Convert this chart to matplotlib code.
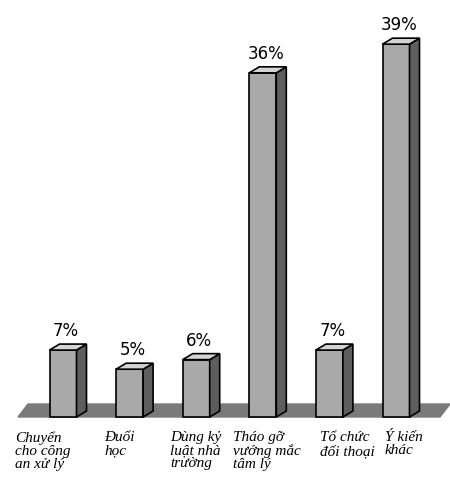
import matplotlib
matplotlib.use("Agg")
import matplotlib.pyplot as plt
from matplotlib.patches import Polygon

categories = ["Chuyển\ncho công\nan xử lý", "Đuổi\nhọc", "Dùng kỷ\nluật nhà\ntrường",
              "Tháo gỡ\nvướng mắc\ntâm lý", "Tổ chức\nđối thoại", "Ý kiến\nkhác"]
values = [7, 5, 6, 36, 7, 39]
labels = ["7%", "5%", "6%", "36%", "7%", "39%"]

fig = plt.figure(figsize=(4.5, 5.02), dpi=100)
ax = fig.add_axes([0, 0, 1, 1])
ppu = 9.56
ax.set_xlim(0, 450)
ax.set_ylim(-84 / ppu, (502 - 84) / ppu)
ax.axis("off")

dx, dy = 10, 6 / ppu
ax.add_patch(Polygon([(18, 0), (440, 0), (450, 13 / ppu), (28, 13 / ppu)],
                     closed=True, facecolor="#7a7a7a", edgecolor="#7a7a7a", zorder=1))
w = 27
centers = [63 + i * 66.6 for i in range(len(values))]
lefts = [c - w / 2 for c in centers]
label_x = [15, 104, 170, 233, 320, 385]
for i, v in enumerate(values):
    l = lefts[i]
    ax.bar(l, v, width=w, align="edge", color="#a9a9a9", edgecolor="black", lw=1.2, zorder=3)
    ax.add_patch(Polygon([(l + w, 0), (l + w + dx, dy), (l + w + dx, v + dy), (l + w, v)],
                         closed=True, facecolor="#5e5e5e", edgecolor="black", lw=1.2, zorder=3))
    ax.add_patch(Polygon([(l, v), (l + w, v), (l + w + dx, v + dy), (l + dx, v + dy)],
                         closed=True, facecolor="#d4d4d4", edgecolor="black", lw=1.2, zorder=3))
    ax.text(centers[i] + 3, v + dy + 0.5, labels[i], ha="center", va="bottom",
            fontsize=12, family="DejaVu Sans", zorder=4)
    ax.text(label_x[i], -1.4, categories[i], ha="left", va="top", fontsize=11,
            family="Liberation Serif", style="italic", linespacing=1.0)

fig.savefig("out.png", dpi=100)
